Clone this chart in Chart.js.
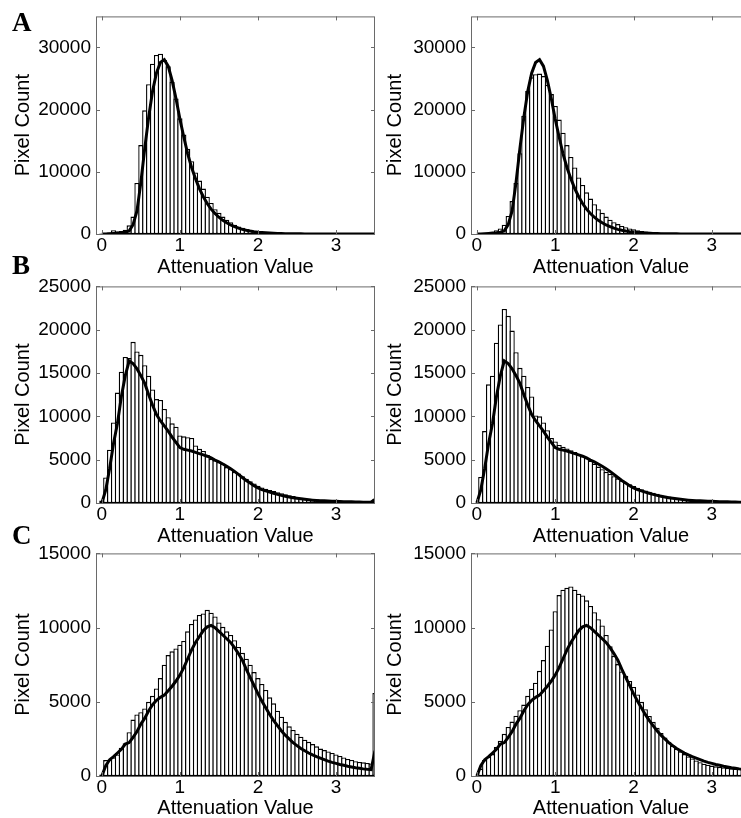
<!DOCTYPE html>
<html><head><meta charset="utf-8">
<script src="https://cdn.jsdelivr.net/npm/chart.js@4/dist/chart.umd.min.js"></script>
<style>
html,body{margin:0;padding:0;background:#fff;width:741px;height:818px;overflow:hidden;}
#fig{position:relative;width:741px;height:818px;overflow:hidden;background:#fff;}
canvas{position:absolute;}
.lbl{position:absolute;font-family:"Liberation Serif","Times New Roman",serif;font-weight:bold;font-size:27px;line-height:1;color:#000;}
</style></head><body>
<div id="fig">
<canvas id="cA1" width="380" height="285" style="left:0;top:0"></canvas>
<canvas id="cA2" width="380" height="285" style="left:376px;top:0"></canvas>
<canvas id="cB1" width="380" height="285" style="left:0;top:270px"></canvas>
<canvas id="cB2" width="380" height="285" style="left:376px;top:270px"></canvas>
<canvas id="cC1" width="380" height="295" style="left:0;top:537px"></canvas>
<canvas id="cC2" width="380" height="295" style="left:376px;top:537px"></canvas>
<div class="lbl" style="left:12px;top:9px">A</div>
<div class="lbl" style="left:12px;top:252px">B</div>
<div class="lbl" style="left:12px;top:522px">C</div>
</div>
<script>
// Bin centres (Attenuation Value)
const binCenters = [0,0.05,0.1,0.15,0.2,0.25,0.3,0.35,0.4,0.45,0.5,0.55,0.6,0.65,0.7,0.75,0.8,0.85,0.9,0.95,
1,1.05,1.1,1.15,1.2,1.25,1.3,1.35,1.4,1.45,1.5,1.55,1.6,1.65,1.7,1.75,1.8,1.85,1.9,1.95,
2,2.05,2.1,2.15,2.2,2.25,2.3,2.35,2.4,2.45,2.5,2.55,2.6,2.65,2.7,2.75,2.8,2.85,2.9,2.95,
3,3.05,3.1,3.15,3.2,3.25,3.3,3.35,3.4,3.45,3.5];

const xTickValues = [0,1,2,3];
const yTicksA = [0,10000,20000,30000];
const yTicksB = [0,5000,10000,15000,20000,25000];
const yTicksC = [0,5000,10000,15000];

// Row A
const barsA1 = [100,100,250,600,400,500,700,1400,2800,8200,
14300,19900,24100,27400,28800,29000,28000,27000,24500,21800,
18600,16000,13700,11700,9900,8600,7300,6000,5000,4000,
3400,2800,2300,1900,1500,1200,1000,800,650,500,
420,350,290,240,200,160,130,110,90,70,
60,50,40,35,30,25,20,15,10,10,
5,5,5,0,0,0,0,0,0,0,0];
const barsA2 = [0,0,50,150,300,600,900,1500,2900,5300,
8200,13000,19000,23000,25200,25700,25800,25400,24000,22500,
20600,18400,16300,14300,12400,10700,9100,7900,6700,5700,
4800,4000,3400,2800,2300,1900,1600,1300,1100,900,
750,620,500,420,350,280,230,190,150,120,
100,80,65,50,40,30,25,20,15,10,
10,5,5,5,0,0,0,0,0,0,0];
const lineA = [0,0,50,100,150,200,300,500,1500,3700,
8300,13800,18800,23000,25900,27600,28050,27000,24700,21800,
18500,15600,12900,10700,8900,7300,6000,4900,4000,3300,
2700,2200,1800,1450,1200,950,750,600,480,380,
300,240,190,150,120,100,80,60,50,40,
30,25,20,15,10,10,5,5,5,0,
0,0,0,0,0,0,0,0,0,0,0];

// Row B
const barsB1 = [300,2950,6150,9300,12750,15150,16850,16750,18600,17500,
17100,15900,14700,13100,12000,11900,10850,9900,9200,8800,
7800,7700,7600,7500,6650,6250,6000,5550,5100,4950,
4750,4550,4150,3950,3600,3400,3100,2800,2500,2250,
2000,1800,1650,1500,1380,1250,1130,1000,900,800,
700,620,550,490,440,400,370,340,320,300,
280,260,240,220,210,200,190,180,170,170,500];
const barsB2 = [0,3000,8300,13700,14700,18500,20600,22400,21600,19900,
17400,15600,14700,13400,12300,10100,10000,9300,8400,7500,
7100,6700,6500,6300,6100,5900,5600,5450,5200,4900,
4550,4200,3900,3600,3350,3100,2850,2600,2350,2150,
1950,1750,1600,1450,1300,1180,1060,950,850,750,
660,570,500,430,370,310,260,210,170,130,
100,80,60,50,40,30,25,20,15,10,10];
const lineB = [0,1500,4000,6900,9200,12300,14700,16400,16100,15500,
14700,13800,12500,11300,10200,9500,8900,8300,7600,7000,
6400,6200,6100,6000,5850,5700,5550,5400,5200,4950,
4750,4500,4250,3950,3650,3300,2950,2600,2300,2000,
1750,1550,1400,1250,1120,1000,880,780,690,610,
540,480,420,370,330,300,270,250,230,210,
190,170,155,140,130,120,110,100,100,110,400];

// Row C
const barsC1 = [100,1070,1100,1250,1450,1900,2200,2950,3800,4150,
4300,4550,5000,5400,5900,6600,7500,8150,8400,8600,
8850,9100,9750,10250,10550,10850,10950,11200,11000,10750,
10350,10050,9750,9500,9150,8700,8300,7900,7500,7000,
6600,6200,5800,5300,4900,4400,4000,3650,3350,3100,
2850,2650,2450,2300,2150,2000,1850,1750,1650,1550,
1450,1350,1250,1150,1080,1000,950,920,880,850,5600];
const barsC2 = [0,500,1070,1280,1480,1950,2380,2840,3310,3670,
4060,4430,4810,5400,5880,6290,7090,7810,8780,9880,
11110,12190,12550,12680,12770,12550,12280,12170,11840,11460,
11040,10570,10140,9500,8740,8090,7540,7050,6760,6400,
6000,5500,5000,4500,4050,3650,3250,2900,2600,2300,
2050,1850,1650,1480,1320,1180,1050,930,830,760,
700,650,610,580,550,520,500,480,460,440,420];
const lineC = [0,700,1100,1300,1550,1800,2150,2250,2600,3000,
3500,3900,4400,4800,5100,5300,5450,5750,6050,6400,
6800,7300,7900,8500,9000,9400,9800,10050,10150,10000,
9750,9500,9250,9000,8650,8250,7800,7200,6650,6100,
5550,5050,4600,4150,3750,3400,3050,2750,2500,2250,
2050,1850,1700,1550,1420,1300,1200,1100,1000,920,
850,780,720,660,610,560,520,480,450,430,1700];

const FONT = '"Liberation Sans", Arial, Helvetica, sans-serif';

const framePlugin = {
  id: 'frame',
  afterDraw(chart) {
    const {ctx, chartArea: a, scales: {x, y}} = chart;
    ctx.save();
    ctx.strokeStyle = '#6a6a6a';
    ctx.lineWidth = 1;
    ctx.strokeRect(a.left + 0.5, a.top + 0.5, a.right - a.left - 1, a.bottom - a.top);
    ctx.beginPath();
    const tl = 4;
    x.ticks.forEach(t => {
      const px = Math.round(x.getPixelForValue(t.value)) + 0.5;
      ctx.moveTo(px, a.bottom); ctx.lineTo(px, a.bottom - tl);
      ctx.moveTo(px, a.top); ctx.lineTo(px, a.top + tl);
    });
    y.ticks.forEach(t => {
      const py = Math.round(y.getPixelForValue(t.value)) + 0.5;
      ctx.moveTo(a.left, py); ctx.lineTo(a.left + tl, py);
      ctx.moveTo(a.right, py); ctx.lineTo(a.right - tl, py);
    });
    ctx.stroke();
    ctx.restore();
  }
};

function pts(vals) { return vals.map((v, i) => ({x: binCenters[i], y: v})); }

function makePanel(id, bars, line, yTicks, ymax, g) {
  return new Chart(document.getElementById(id), {
    type: 'bar',
    data: { datasets: [
      { type: 'line', data: pts(line), borderColor: '#000', borderWidth: 3,
        pointRadius: 0, fill: false, tension: 0, order: 0 },
      { type: 'bar', data: pts(bars), backgroundColor: '#fff', borderColor: '#000',
        borderWidth: 1.35, borderSkipped: false, barPercentage: 1.346, categoryPercentage: 1,
        grouped: false, order: 1, clip: 0 }
    ]},
    options: {
      responsive: false, animation: false, devicePixelRatio: 1,
      layout: { padding: { top: g.padTop, right: 5, left: 0, bottom: 0 } },
      plugins: { legend: { display: false }, tooltip: { enabled: false } },
      scales: {
        x: {
          type: 'linear', min: -0.075, max: 3.5, offset: false,
          afterBuildTicks: s => { s.ticks = xTickValues.map(v => ({value: v})); },
          ticks: { autoSkip: false, maxRotation: 0, padding: 0, color: '#000',
                   font: { family: FONT, size: 19 }, callback: v => String(v) },
          grid: { display: false, drawTicks: false },
          border: { display: false },
          title: { display: true, text: 'Attenuation Value', color: '#000',
                   font: { family: FONT, size: 20 }, padding: { top: 0, bottom: g.xTitlePad } },
          afterFit: s => { s.height = g.xH; }
        },
        y: {
          min: 0, max: ymax,
          afterBuildTicks: s => { s.ticks = yTicks.map(v => ({value: v})); },
          ticks: { padding: 5, color: '#000', font: { family: FONT, size: 19 },
                   callback: v => String(v) },
          grid: { display: false, drawTicks: false },
          border: { display: false },
          title: { display: true, text: 'Pixel Count', color: '#000',
                   font: { family: FONT, size: 20 }, padding: { top: g.yTitlePad, bottom: 0 } },
          afterFit: s => { s.width = g.yW; }
        }
      }
    },
    plugins: [framePlugin]
  });
}

const gA1 = {padTop: 15, xH: 51, xTitlePad: 6, yW: 96, yTitlePad: 11};
const gA2 = {padTop: 15, xH: 51, xTitlePad: 6, yW: 95, yTitlePad: 7.5};
const gB1 = {padTop: 15, xH: 52, xTitlePad: 7, yW: 96, yTitlePad: 11};
const gB2 = {padTop: 15, xH: 52, xTitlePad: 7, yW: 95, yTitlePad: 7.5};
const gC1 = {padTop: 15, xH: 56, xTitlePad: 12, yW: 96, yTitlePad: 11};
const gC2 = {padTop: 15, xH: 56, xTitlePad: 12, yW: 95, yTitlePad: 7.5};

makePanel('cA1', barsA1, lineA, yTicksA, 35000, gA1);
makePanel('cA2', barsA2, lineA, yTicksA, 35000, gA2);
makePanel('cB1', barsB1, lineB, yTicksB, 25000, gB1);
makePanel('cB2', barsB2, lineB, yTicksB, 25000, gB2);
makePanel('cC1', barsC1, lineC, yTicksC, 15000, gC1);
makePanel('cC2', barsC2, lineC, yTicksC, 15000, gC2);
</script>
</body></html>
